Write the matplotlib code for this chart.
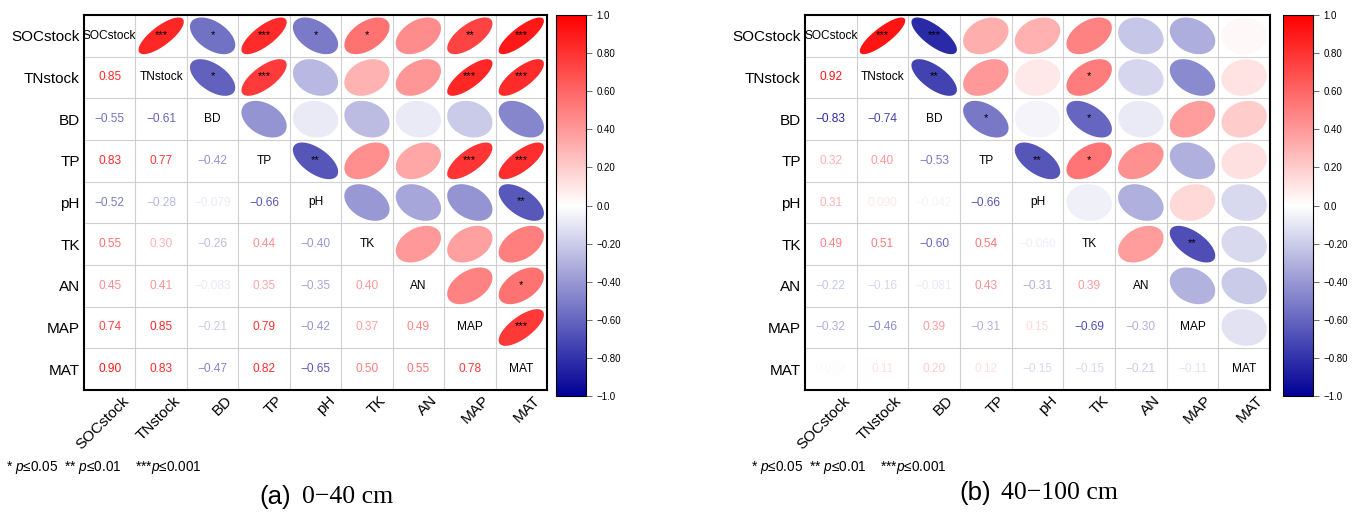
import numpy as np
import matplotlib.pyplot as plt
from matplotlib.colors import LinearSegmentedColormap, Normalize
from matplotlib.patches import Polygon
from matplotlib.cm import ScalarMappable
from matplotlib.transforms import ScaledTranslation

plt.rcParams['font.family'] = ['Liberation Sans', 'DejaVu Sans']
plt.rcParams['mathtext.fontset'] = 'custom'
plt.rcParams['mathtext.it'] = 'Liberation Sans:italic'
plt.rcParams['mathtext.rm'] = 'Liberation Sans'

variables = ["SOCstock", "TNstock", "BD", "TP", "pH", "TK", "AN", "MAP", "MAT"]

# lower triangle of the correlation matrix, row by row
lower_0_40 = [
    [],
    [0.85],
    [-0.55, -0.61],
    [0.83, 0.77, -0.42],
    [-0.52, -0.28, -0.079, -0.66],
    [0.55, 0.30, -0.26, 0.44, -0.40],
    [0.45, 0.41, -0.083, 0.35, -0.35, 0.40],
    [0.74, 0.85, -0.21, 0.79, -0.42, 0.37, 0.49],
    [0.90, 0.83, -0.47, 0.82, -0.65, 0.50, 0.55, 0.78],
]
lower_40_100 = [
    [],
    [0.92],
    [-0.83, -0.74],
    [0.32, 0.40, -0.53],
    [0.31, 0.090, -0.042, -0.66],
    [0.49, 0.51, -0.60, 0.54, -0.060],
    [-0.22, -0.16, -0.081, 0.43, -0.31, 0.39],
    [-0.32, -0.46, 0.39, -0.31, 0.15, -0.69, -0.30],
    [0.029, 0.11, 0.20, 0.12, -0.15, -0.15, -0.21, -0.11],
]

# significance stars in the upper triangle, row i covers columns i+1..8
stars_0_40 = [
    ["***", "*", "***", "*", "*", "", "**", "***"],
    ["*", "***", "", "", "", "***", "***"],
    ["", "", "", "", "", ""],
    ["**", "", "", "***", "***"],
    ["", "", "", "**"],
    ["", "", ""],
    ["", "*"],
    ["***"],
]
stars_40_100 = [
    ["***", "***", "", "", "", "", "", ""],
    ["**", "", "", "*", "", "", ""],
    ["*", "", "*", "", "", ""],
    ["**", "*", "", "", ""],
    ["", "", "", ""],
    ["", "**", ""],
    ["", ""],
    [""],
]

cbar_ticks = [1.0, 0.8, 0.6, 0.4, 0.2, 0.0, -0.2, -0.4, -0.6, -0.8, -1.0]
cbar_labels = ["1.0", "0.80", "0.60", "0.40", "0.20", "0.0",
               "\u22120.20", "\u22120.40", "\u22120.60", "\u22120.80", "\u22121.0"]

cmap = LinearSegmentedColormap.from_list("corr", ["#000096", "#ffffff", "#ff0000"])
norm = Normalize(-1, 1)


def full_matrix(lower):
    n = len(lower)
    m = np.eye(n)
    for i, row in enumerate(lower):
        for j, v in enumerate(row):
            m[i, j] = v
            m[j, i] = v
    return m


def fmt(v):
    s = f"{abs(v):.3f}" if abs(v) < 0.1 else f"{abs(v):.2f}"
    return ("\u2212" + s) if v < 0 else s


def draw_corr(ax, cax, lower, stars):
    m = full_matrix(lower)
    n = len(variables)
    ax.set_xlim(0, n)
    ax.set_ylim(n, 0)
    for k in range(1, n):
        ax.axvline(k, color="#d0d0d0", lw=0.8, zorder=0)
        ax.axhline(k, color="#d0d0d0", lw=0.8, zorder=0)
    t = np.linspace(0, 2 * np.pi, 120)
    for i in range(n):
        for j in range(n):
            cx, cy = j + 0.5, i + 0.5
            r = m[i, j]
            if i == j:
                ax.text(cx, cy, variables[i], ha="center", va="center", fontsize=8.6)
            elif i > j:
                ax.text(cx, cy, fmt(r), ha="center", va="center", fontsize=8.6,
                        color=cmap(norm(r)))
            else:
                d = np.arccos(0.9 * r)
                ex = cx + 0.44 * np.cos(t + d / 2)
                ey = cy - 0.44 * np.cos(t - d / 2)
                ax.add_patch(Polygon(np.column_stack([ex, ey]), closed=True,
                                     facecolor=cmap(norm(r)), edgecolor="none"))
                st = stars[i][j - i - 1]
                if st:
                    ax.text(cx, cy - 0.03, st, ha="center", va="center", fontsize=8)
    ax.set_xticks(np.arange(n) + 0.5)
    ax.set_yticks(np.arange(n) + 0.5)
    ax.set_xticklabels(variables, rotation=45, ha="right", va="center",
                       rotation_mode="anchor", fontsize=11)
    ax.set_yticklabels(variables, fontsize=11)
    ax.tick_params(length=0, pad=3)
    ax.tick_params(axis="x", pad=6)
    shift = ScaledTranslation(0.17, 0, fig.dpi_scale_trans)
    for lab in ax.get_xticklabels():
        lab.set_transform(lab.get_transform() + shift)
    for sp in ax.spines.values():
        sp.set_linewidth(1.5)

    cb = plt.colorbar(ScalarMappable(norm=norm, cmap=cmap), cax=cax)
    cb.set_ticks(cbar_ticks)
    cb.set_ticklabels(cbar_labels)
    cb.ax.tick_params(labelsize=7, length=4, width=0.6, color="#555555")
    cb.outline.set_linewidth(0.8)


fig = plt.figure(figsize=(13.53, 5.12), dpi=100)
W, H = 1353, 512


def px_axes(x0, y0, x1, y1):
    return fig.add_axes([x0 / W, 1 - y1 / H, (x1 - x0) / W, (y1 - y0) / H])


ax1 = px_axes(84, 15, 547, 390)
cax1 = px_axes(556, 15, 586, 396)
ax2 = px_axes(805, 15, 1270, 390)
cax2 = px_axes(1283, 15, 1313, 396)

draw_corr(ax1, cax1, lower_0_40, stars_0_40)
draw_corr(ax2, cax2, lower_40_100, stars_40_100)

note = r"* $\it{p}$≤0.05  ** $\it{p}$≤0.01    ***$\it{p}$≤0.001"
fig.text(6 / W, 1 - 468 / H, note, fontsize=9.8, va="center")
fig.text(751 / W, 1 - 468 / H, note, fontsize=9.8, va="center")

fig.text(291 / W, 1 - 497 / H, "(a)", fontsize=18.5, ha="right", va="center")
fig.text(302 / W, 1 - 497 / H, "0\u221240 cm", fontsize=18.5, ha="left", va="center",
         family="Liberation Serif")
fig.text(991 / W, 1 - 493 / H, "(b)", fontsize=18.5, ha="right", va="center")
fig.text(1001 / W, 1 - 493 / H, "40\u2212100 cm", fontsize=18.5, ha="left", va="center",
         family="Liberation Serif")

fig.savefig("out.png", dpi=100)
